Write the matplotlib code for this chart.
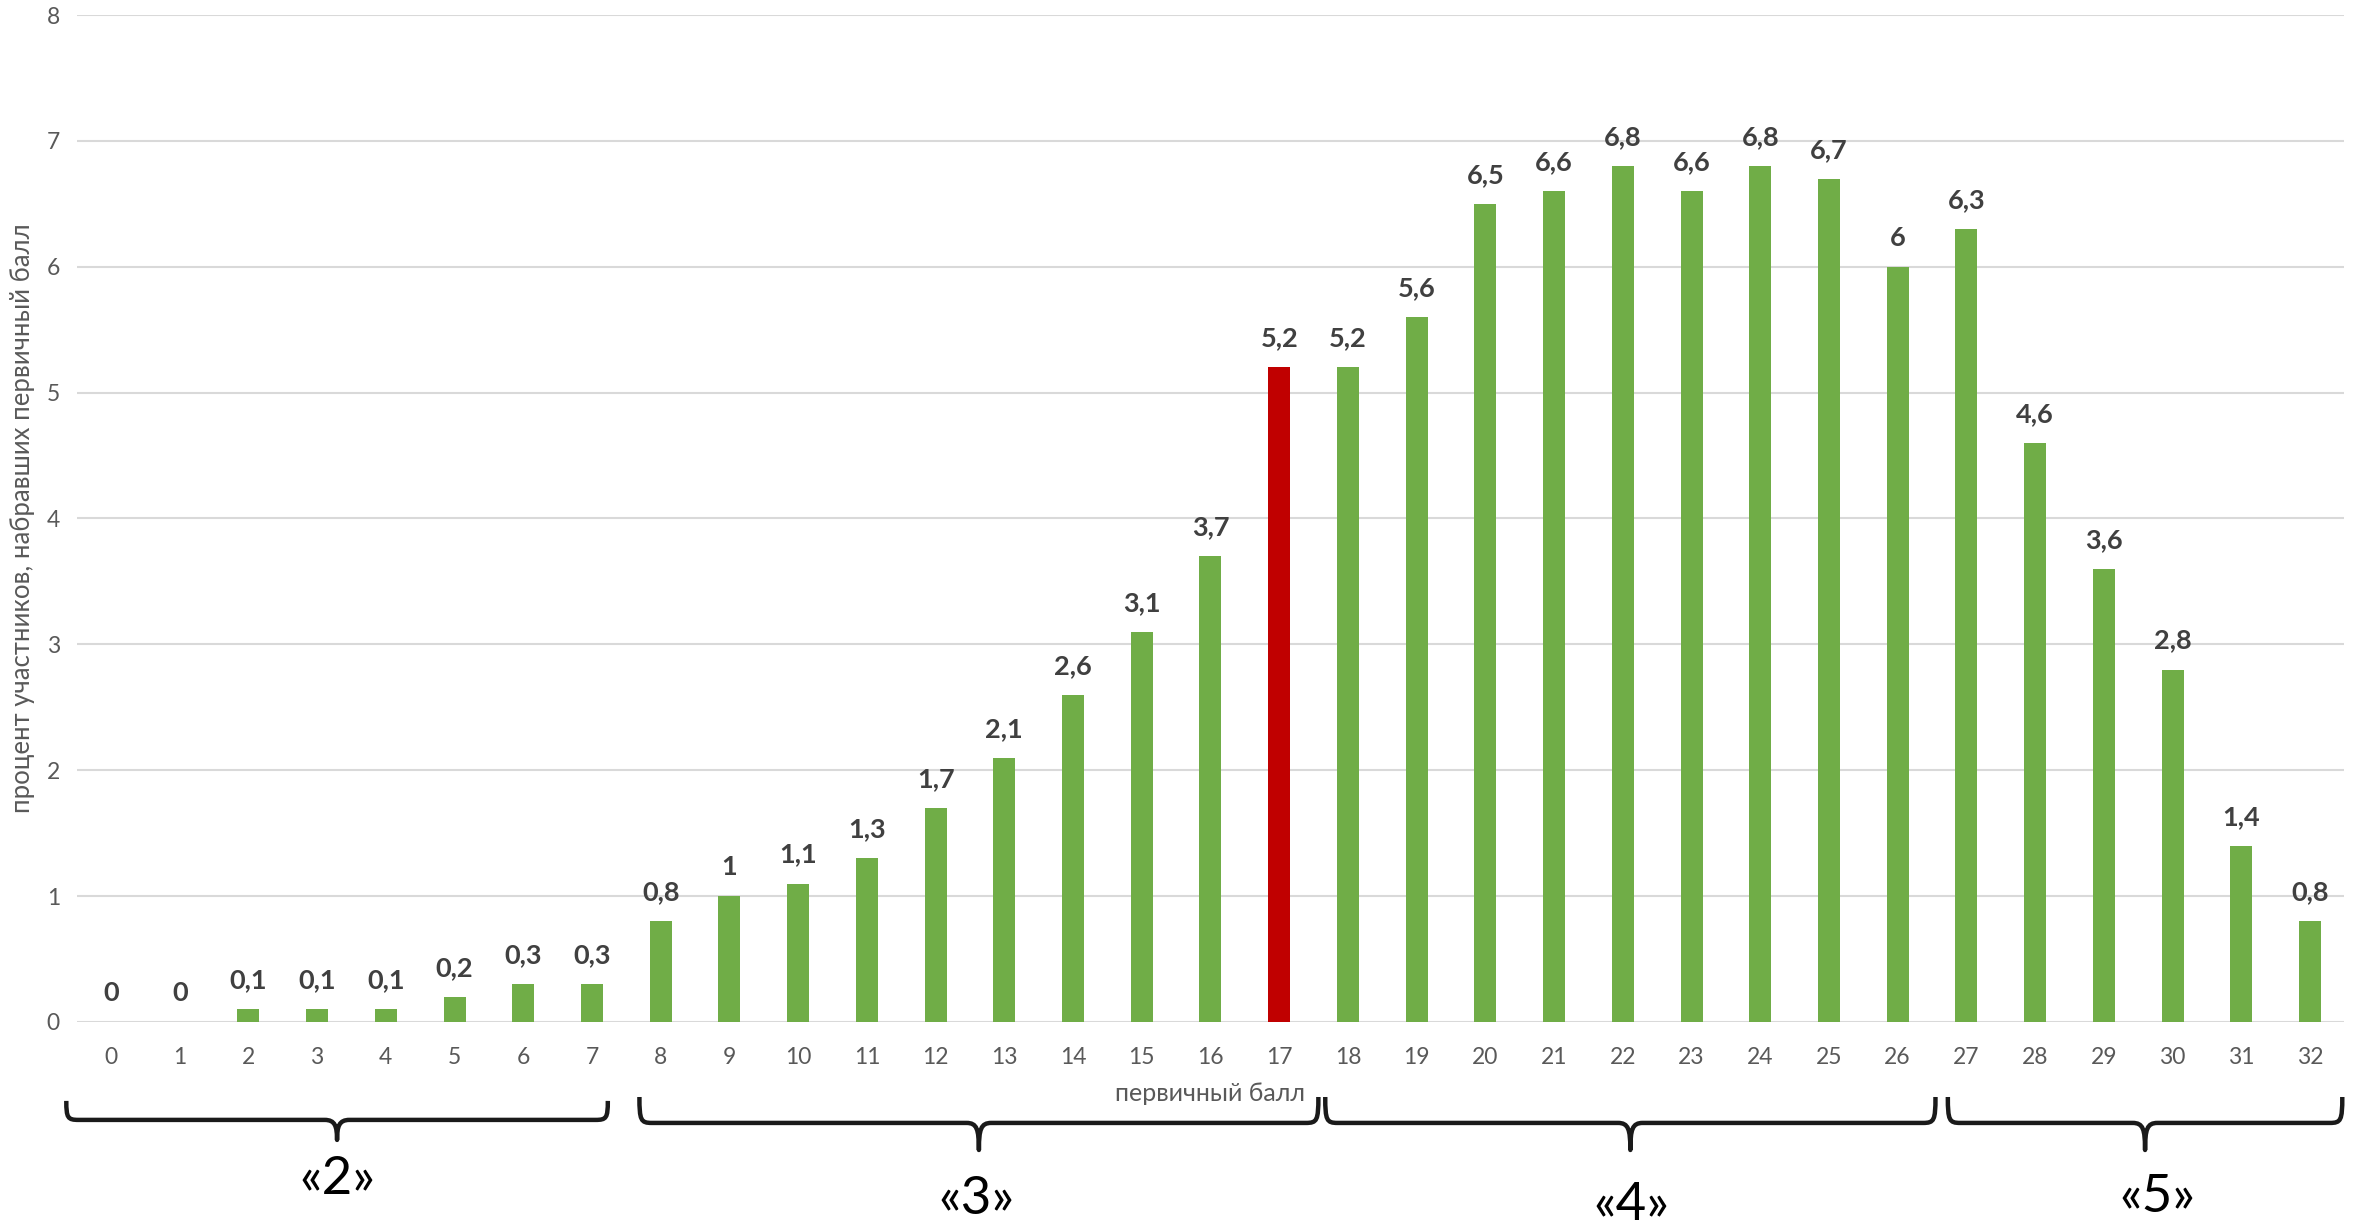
import matplotlib
matplotlib.use("Agg")
import matplotlib.pyplot as plt
from matplotlib.path import Path
from matplotlib.patches import PathPatch

# primary score -> percent of participants
scores = list(range(0, 33))
percents = [0, 0, 0.1, 0.1, 0.1, 0.2, 0.3, 0.3, 0.8, 1, 1.1, 1.3, 1.7, 2.1, 2.6, 3.1, 3.7,
            5.2, 5.2, 5.6, 6.5, 6.6, 6.8, 6.6, 6.8, 6.7, 6, 6.3, 4.6, 3.6, 2.8, 1.4, 0.8]
highlight_score = 17

# grade groups: label, brace span (x in score units)
grade_labels = ["«2»", "«3»", "«4»", "«5»"]
grade_spans = [(-0.65, 7.23), (7.69, 17.57), (17.67, 26.55), (26.73, 32.47)]

plt.rcParams['font.family'] = ['Lato', 'DejaVu Sans']

GREEN = '#70AD47'
RED = '#C00000'

fig = plt.figure(figsize=(23.61, 12.21), dpi=100)
ax = fig.add_axes([0.03245, 0.1630, 0.9605, 0.8247])

colors = [RED if s == highlight_score else GREEN for s in scores]
bars = ax.bar(scores, percents, width=0.32, color=colors, zorder=3)

for s, v in zip(scores, percents):
    txt = ('%g' % v).replace('.', ',')
    ax.annotate(txt, (s, v), xytext=(0, 17), textcoords='offset pixels',
                ha='center', va='bottom', fontsize=19.5, fontweight='bold', color='#404040')

ax.set_xlim(-0.5, 32.5)
ax.set_ylim(0, 8)
ax.set_xticks(scores)
ax.set_yticks(range(0, 9))
ax.tick_params(axis='both', length=0, labelsize=16.5, colors='#595959')
ax.tick_params(axis='x', pad=18)
ax.tick_params(axis='y', pad=12)
ax.grid(axis='y', color='#D9D9D9', linewidth=1.5, zorder=0)
for sp in ax.spines.values():
    sp.set_visible(False)

ax.set_xlabel("первичный балл", fontsize=18, color='#595959', labelpad=10)
ax.set_ylabel("процент участников, набравших первичный балл", fontsize=18.5, color='#595959', labelpad=8)


def brace(x0, x1, ytop, yline, ytip, r=0.18):
    xm = (x0 + x1) / 2
    dy = ytop - yline
    verts = [(x0, ytop), (x0, yline + 0.1 * dy), (x0 + 0.02, yline), (x0 + r, yline),
             (xm - r, yline),
             (xm - 0.03, yline), (xm, yline - 0.05), (xm, ytip),
             (xm, yline - 0.05), (xm + 0.03, yline), (xm + r, yline),
             (x1 - r, yline),
             (x1 - 0.02, yline), (x1, yline + 0.1 * dy), (x1, ytop)]
    codes = [Path.MOVETO, Path.CURVE4, Path.CURVE4, Path.CURVE4,
             Path.LINETO,
             Path.CURVE4, Path.CURVE4, Path.CURVE4,
             Path.CURVE4, Path.CURVE4, Path.CURVE4,
             Path.LINETO,
             Path.CURVE4, Path.CURVE4, Path.CURVE4]
    patch = PathPatch(Path(verts, codes), facecolor='none', edgecolor='#1a1a1a',
                      linewidth=3.2, clip_on=False, capstyle='butt', joinstyle='round')
    ax.add_patch(patch)


brace_levels = [(-0.627, -0.778, -0.937), (-0.596, -0.802, -1.017),
                (-0.596, -0.802, -1.017), (-0.596, -0.802, -1.017)]
label_levels = [-1.255, -1.414, -1.46, -1.398]
label_x = [3.29, 12.59, 22.13, 29.78]

for (x0, x1), lv, lab, ly, lx in zip(grade_spans, brace_levels, grade_labels, label_levels, label_x):
    brace(x0, x1, *lv)
    ax.text(lx, ly, lab, ha='center', va='center', fontsize=38, color='black', clip_on=False)

fig.savefig("out.png", dpi=100)
